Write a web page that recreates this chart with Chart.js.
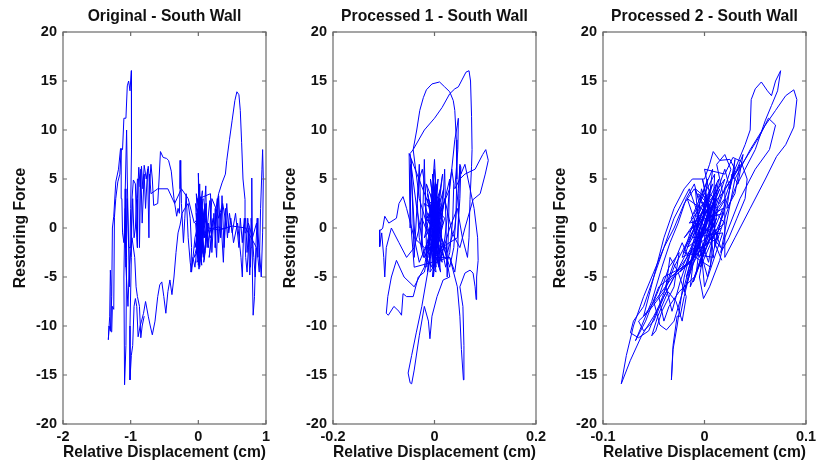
<!DOCTYPE html>
<html><head><meta charset="utf-8">
<script src="https://cdn.jsdelivr.net/npm/chart.js@4.4.1/dist/chart.umd.min.js"></script>
<style>
html,body{margin:0;padding:0;background:#fff;}
#wrap{position:relative;width:820px;height:472px;overflow:hidden;background:#fff;}
canvas{position:absolute;top:0;}
</style></head><body>
<div id="wrap">
<canvas id="c0" width="290" height="472" style="left:0px"></canvas>
<canvas id="c1" width="290" height="472" style="left:270px"></canvas>
<canvas id="c2" width="280" height="472" style="left:540px"></canvas>
</div>
<script>
// ---------- DATA ----------
const titles = ["Original - South Wall", "Processed 1 - South Wall", "Processed 2 - South Wall"];
const xLabel = "Relative Displacement (cm)";
const yLabel = "Restoring Force";
const yTicks = [-20, -15, -10, -5, 0, 5, 10, 15, 20];
const originalXTicks = [-2, -1, 0, 1];
const processed1XTicks = [-0.2, 0, 0.2];
const processed2XTicks = [-0.1, 0, 0.1];
const xRanges = [[-2, 1], [-0.2, 0.2], [-0.1, 0.1]];

// Original: [displacement, force]
const originalPoints = [
[0.00,0.0],[0.03,2.0],[-0.02,-1.5],[0.05,3.0],[0.01,-2.5],[-0.03,1.5],[0.04,-1.0],[0.02,4.5],[-0.01,-3.0],[0.06,1.0],[0.00,-3.8],[-0.04,2.5],[0.07,-2.0],[0.03,3.2],[-0.02,0.5],[0.08,-3.0],[0.05,2.0],[-0.05,-2.0],[0.10,1.5],[0.02,-4.0],[-0.03,3.5],[0.09,-1.0],[0.12,2.5],[0.04,-2.5],[0.00,5.6],[0.01,-1.0],[-0.06,-3.0],[0.06,-1.5],[0.11,4.3],[0.13,-2.0],[0.15,0.5],[0.08,-3.5],[0.17,2.8],[0.20,-0.5],[0.16,-3.0],[0.22,1.0],[0.14,-1.5],[0.05,0.5],[-0.02,2.0],[0.03,-0.5],
[0.02,-2.0],[-0.01,3.0],[0.04,-3.0],[0.00,2.5],[0.06,-2.5],[-0.02,-3.5],[0.03,1.0],[0.07,3.0],[0.01,-4.2],[-0.04,0.5],[0.05,-0.5],[0.09,2.0],[0.02,-1.0],[-0.03,-2.5],[0.06,3.8],[0.00,-1.5],[0.08,0.5],[0.04,2.5],[-0.01,-2.0],[0.10,-2.5],[0.03,0.0],[0.01,1.8],[0.05,-3.8],[-0.02,1.0],[0.07,-1.0],[0.02,3.0],[0.12,-1.0],[0.00,0.5],
[-0.05,-1.0],[-0.10,-4.5],[-0.12,-3.5],[-0.15,-1.0],[-0.18,3.5],[-0.20,1.0],[-0.22,-1.5],[-0.25,2.5],[-0.26,6.9],[-0.27,4.0],[-0.28,1.5],[-0.30,2.0],[-0.32,1.2],[-0.36,3.0],[-0.40,5.8],[-0.44,6.9],[-0.47,7.1],[-0.52,7.2],[-0.56,7.8],[-0.58,5.0],[-0.60,2.5],[-0.66,2.3],[-0.68,5.0],[-0.70,6.5],[-0.72,4.5],[-0.74,6.3],[-0.77,5.0],[-0.80,6.4],[-0.82,4.0],[-0.84,6.3],[-0.86,4.2],[-0.88,6.2],[-0.90,3.0],[-0.90,-2.0],[-0.91,-1.0],[-0.93,4.5],[-0.96,4.9],[-0.98,3.0],[-0.99,-3.0],[-1.01,-10.0],[-1.01,-15.5],[-0.99,-13.0],[-0.97,-12.0],[-0.95,-8.0],[-0.93,-7.2],[-0.91,-8.0],[-0.89,-11.1],[-0.86,-10.0],[-0.84,-9.5],[-0.81,-8.7],[-0.78,-7.5],[-0.74,-9.0],[-0.71,-10.0],[-0.68,-10.9],[-0.64,-9.5],[-0.60,-7.0],[-0.57,-5.8],[-0.54,-5.5],[-0.51,-7.0],[-0.48,-8.7],[-0.45,-6.5],[-0.42,-5.3],[-0.39,-6.8],[-0.36,-5.0],[-0.33,-2.5],[-0.30,-0.5],[-0.27,0.3],[-0.24,1.5],[-0.20,2.0],[-0.15,2.5],[-0.12,1.0],[-0.10,-2.0],[-0.11,-4.5],[-0.08,-3.0],[-0.05,-4.0],[-0.02,-2.0],[0.02,-3.5],[0.05,-1.0],[0.09,-3.2],[0.12,0.5],
[0.18,-1.0],[0.22,0.0],[0.30,0.1],[0.36,-0.1],[0.42,0.0],[0.36,2.5],[0.30,1.0],[0.26,2.0],[0.25,-2.0],[0.28,3.0],[0.30,-1.5],[0.33,1.5],[0.37,-3.5],[0.40,2.0],[0.43,-1.0],[0.46,1.5],[0.50,-0.5],[0.55,1.5],[0.60,-2.0],[0.62,1.0],[0.65,-1.5],[0.68,1.0],[0.70,-3.0],[0.72,-4.5],[0.74,-2.0],[0.73,1.0],[0.76,-4.8],[0.78,-2.0],[0.79,5.1],[0.80,-5.0],[0.81,-8.9],[0.83,-7.0],[0.85,-2.0],[0.87,1.0],[0.88,-3.0],[0.90,-4.5],[0.92,2.0],[0.94,6.0],[0.95,8.0],[0.96,5.0],[0.95,-0.5],[0.93,-5.0],[0.90,-2.0],[0.86,0.5],[0.80,-1.0],[0.74,0.5],[0.70,-0.5],[0.69,2.9],[0.66,5.0],[0.64,8.7],[0.62,12.0],[0.60,13.6],[0.57,13.9],[0.54,13.0],[0.50,11.0],[0.46,9.0],[0.42,6.9],[0.40,5.5],[0.35,4.6],[0.30,3.5],[0.26,2.0],[0.20,3.0],[0.15,-2.0],[0.10,2.5],[0.05,-3.0],[0.02,1.0],[-0.03,-2.5],[0.01,3.0],
[0.18,3.5],[0.20,-2.5],[0.23,1.5],[0.27,-3.0],[0.30,3.3],[0.33,-1.0],[0.35,3.3],[0.38,-2.0],[0.42,2.5],[0.45,-0.5],[0.48,1.0],[0.52,-1.5],[0.58,0.5],[0.63,-3.0],[0.65,-5.0],[0.67,0.0],[0.70,1.0],[0.72,-2.5],[0.75,0.0],[0.77,-4.0],[0.78,1.0],[0.82,-3.0],[0.84,-5.0],[0.86,-2.0],[0.70,0.0],[0.50,0.2],[0.30,-0.2],[0.15,0.0],[0.05,1.5],[-0.06,0.5],
[-0.15,3.0],[-0.25,4.0],[-0.35,2.5],[-0.45,4.0],[-0.60,4.0],[-0.70,3.5],[-0.72,5.5],[-0.73,-1.0],[-0.75,6.0],[-0.78,2.0],[-0.80,5.5],[-0.83,0.5],[-0.85,6.0],[-0.87,-2.0],[-0.88,5.0],[-0.90,5.0],[-0.93,0.0],[-0.95,-1.0],[-0.97,3.0],[-1.00,-2.0],[-1.03,-2.0],[-1.05,3.0],[-1.07,-2.0],[-1.08,4.0],[-1.10,-5.0],[-1.09,-16.0],[-1.07,-12.0],[-1.06,-3.0],[-1.08,2.0],[-1.10,-1.5],[-1.12,-0.5],[-1.13,3.0],[-1.14,8.1],[-1.16,5.5],[-1.19,4.7],[-1.22,3.0],[-1.24,1.1],[-1.25,-8.3],[-1.27,-8.0],[-1.28,-10.6],[-1.29,-6.0],[-1.30,-4.3],[-1.31,-9.0],[-1.33,-11.4],[-1.32,-10.0],[-1.30,-10.5],[-1.28,-7.0],[-1.27,0.0],[-1.25,1.2],[-1.22,4.7],[-1.18,6.0],[-1.15,8.1],[-1.12,8.0],[-1.10,11.2],[-1.07,11.2],[-1.05,14.5],[-1.03,15.0],[-1.01,14.0],[-0.99,16.05],[-0.985,14.0],[-0.99,8.0],[-1.00,2.0],[-1.02,-6.0],[-1.03,-2.0],[-1.05,5.0],[-1.06,10.0],[-1.08,4.0],[-1.07,-4.0],[-1.04,-8.0],[-1.02,-4.0],[-0.98,-1.0],[-0.94,-3.0],[-0.92,-6.0],[-0.90,-7.0],[-0.87,-8.0],[-0.85,-11.2],[-0.83,-10.0],[-0.80,-9.0]
];

// Processed 1: [displacement, force]
const processed1Points = [
[0.000,0.0],[0.010,3.0],[-0.010,-3.0],[0.015,2.0],[-0.020,-1.0],[0.005,4.5],[-0.005,-4.0],[0.020,1.0],[-0.015,3.0],[0.010,-2.5],[-0.008,5.0],[0.012,-4.5],[-0.018,0.5],[0.004,3.5],[-0.012,-2.0],[0.018,4.0],[-0.004,-5.0],[0.008,1.5],[-0.020,2.5],[0.015,-3.5],[0.000,6.0],[-0.010,-1.5],[0.020,-2.0],[-0.006,2.0],[0.006,-3.0],[-0.016,4.5],[0.012,0.5],[-0.002,-2.5],[0.016,5.5],[-0.014,-4.5],[0.002,1.0],
[0.004,-1.5],[-0.006,3.0],[0.009,-4.0],[-0.011,1.5],[0.013,2.5],[-0.003,-3.5],[0.007,5.0],[-0.013,-2.5],[0.017,0.5],[-0.001,4.0],[0.011,-3.0],[-0.009,-4.5],[0.001,2.0],[-0.017,1.0],[0.014,-1.0],[-0.004,5.5],[0.006,-2.0],[-0.014,3.5],[0.019,-3.0],[-0.002,-1.0],[0.009,3.0],[-0.008,0.0],[0.003,-4.5],[-0.019,-3.0],[0.012,4.0],[-0.005,1.5],
[0.006,2.0],[-0.006,-2.5],[0.010,-1.0],[-0.010,2.5],[0.003,-4.0],[-0.003,4.0],[0.012,1.5],[-0.012,-1.5],[0.007,-3.5],[-0.007,3.5],[0.000,-2.0],[0.004,3.0],[-0.004,-3.0],[0.009,0.5],[-0.009,-0.5],[0.002,5.0],[-0.002,-5.0],[0.011,3.0],[-0.011,-3.0],[0.005,-1.0],
[-0.020,-3.0],[-0.028,0.0],[-0.035,2.0],[-0.045,6.0],[-0.048,7.6],[-0.042,8.0],[-0.035,10.0],[-0.029,12.0],[-0.022,13.3],[-0.016,14.1],[-0.005,14.7],[0.010,14.9],[0.020,14.4],[0.030,13.9],[0.037,13.0],[0.040,12.0],[0.043,9.0],[0.044,5.0],[0.042,1.0],[0.038,-2.0],[0.030,-4.0],[0.015,-1.5],[0.000,2.5],[-0.010,-0.5],
[-0.030,3.0],[-0.042,8.0],[-0.020,10.0],[0.000,11.2],[0.015,12.3],[0.030,13.7],[0.040,14.2],[0.047,14.4],[0.055,15.2],[0.062,15.9],[0.068,16.05],[0.071,15.0],[0.073,11.4],[0.074,8.0],[0.073,6.3],[0.070,2.9],[0.068,-1.0],[0.065,-3.0],[0.055,-1.0],[0.045,2.0],[0.030,0.0],[0.010,-3.5],[-0.005,0.5],
[-0.022,-3.0],[-0.030,-1.0],[-0.034,2.5],[-0.030,5.0],[-0.024,6.0],[-0.018,4.0],[-0.016,1.0],
[0.018,-2.0],[0.025,1.0],[0.030,4.5],[0.034,6.0],[0.038,4.5],[0.036,1.0],[0.030,-2.5],[0.022,-4.0],[0.014,-2.0],
[0.045,-1.0],[0.050,3.0],[0.052,6.2],[0.050,6.5],[0.048,3.5],[0.046,-2.0],[0.040,-4.5],[0.030,-3.0],
[-0.040,-4.0],[-0.046,0.0],[-0.049,5.0],[-0.047,6.5],[-0.043,3.0],[-0.038,-1.5],[-0.030,-3.5],
[0.030,4.0],[0.040,9.0],[0.045,10.5],[0.047,11.2],[0.046,8.0],[0.040,4.0],[0.050,5.0],[0.060,5.5],[0.080,6.0],[0.095,7.5],[0.101,8.0],[0.106,6.9],[0.100,5.5],[0.090,3.5],[0.076,2.9],[0.060,0.0],[0.050,-2.0],[0.035,-0.5],[0.020,3.0],[0.005,-2.0],
[-0.020,-2.0],[-0.040,-1.0],[-0.055,2.0],[-0.062,3.2],[-0.070,2.5],[-0.075,1.0],[-0.090,0.5],[-0.098,1.2],[-0.102,0.0],[-0.105,-0.2],[-0.108,-0.2],[-0.108,-1.9],[-0.104,-0.5],[-0.100,-3.0],[-0.098,-5.0],[-0.095,-2.0],[-0.085,0.0],[-0.070,-1.5],[-0.055,-3.0],[-0.040,-2.0],[-0.025,1.0],[-0.010,-1.0],
[-0.020,-4.0],[-0.040,-6.0],[-0.060,-5.0],[-0.075,-3.3],[-0.085,-5.0],[-0.092,-7.0],[-0.095,-8.7],[-0.091,-8.9],[-0.080,-8.0],[-0.070,-8.5],[-0.065,-8.9],[-0.062,-6.7],[-0.055,-7.0],[-0.042,-7.0],[-0.032,-5.0],[-0.020,-4.5],[-0.005,-1.0],[0.010,2.0],
[-0.015,-5.0],[-0.025,-8.0],[-0.036,-10.7],[-0.045,-13.0],[-0.052,-14.8],[-0.048,-15.8],[-0.045,-15.9],[-0.040,-14.5],[-0.030,-11.0],[-0.020,-8.0],[-0.012,-9.5],[-0.009,-11.3],[-0.005,-9.0],[0.005,-7.0],[0.017,-5.3],[0.030,-5.0],[0.020,-2.0],[0.000,-3.0],
[0.030,-3.0],[0.045,-6.0],[0.050,-9.0],[0.053,-12.4],[0.057,-15.5],[0.058,-12.0],[0.056,-8.0],[0.050,-6.0],[0.060,-4.6],[0.070,-4.3],[0.076,-4.6],[0.080,-6.0],[0.082,-7.3],[0.083,-5.0],[0.086,-3.3],[0.085,-1.0],[0.078,2.0],[0.070,4.0],[0.060,6.5],[0.052,5.5],[0.050,6.3],[0.047,4.0],[0.040,0.0],[0.025,-2.5],
[-0.050,7.6],[-0.048,0.0],[-0.046,7.0],[-0.040,-3.0],[-0.030,6.5],[-0.025,-2.0],[-0.020,7.0],[-0.015,-4.0],[0.000,7.0],[0.010,-4.0],[0.020,6.0],[0.025,-5.0],[0.030,5.0],[0.005,-0.5]
];

// Processed 2: [displacement, force]
const processed2Points = [
[0.000,0.0],[0.010,3.0],[-0.010,-2.0],[0.015,4.0],[-0.015,-4.0],[0.005,2.0],[-0.020,-1.0],[0.020,5.0],[-0.005,-3.0],[0.012,1.0],[-0.018,-5.0],[0.008,4.5],[-0.012,0.0],[0.018,2.0],[-0.008,-4.5],[0.003,5.0],[-0.022,-3.0],[0.014,-1.0],[-0.006,3.5],[0.020,0.5],[-0.016,-2.5],[0.006,-4.0],[0.010,5.5],[-0.010,1.5],[0.016,-2.0],[-0.003,4.0],[-0.014,-6.0],[0.004,-1.5],[0.012,3.0],[-0.008,-2.5],
[-0.004,-1.0],[0.009,2.5],[-0.013,-3.5],[0.003,3.0],[-0.009,-0.5],[0.013,4.0],[-0.017,-2.0],[0.007,0.0],[-0.002,5.0],[0.011,-0.5],[-0.019,-4.0],[0.001,1.5],[0.017,3.5],[-0.011,-5.5],[0.005,-1.0],[0.014,5.0],[-0.007,0.5],[-0.021,-2.5],[0.009,-3.0],[0.002,3.0],[-0.015,0.5],[0.019,1.5],[-0.004,-4.0],[0.012,4.5],[-0.010,-3.0],[0.006,2.5],[-0.024,-4.5],[0.016,0.0],[-0.001,-2.0],[0.008,6.0],[-0.013,1.0],[0.003,-5.0],[0.021,3.0],[-0.006,-1.5],[0.010,1.0],[-0.017,3.0],[0.004,-3.5],[0.013,2.0],[-0.009,4.0],[0.000,-6.0],[0.018,-0.5],[-0.012,-1.0],[0.006,4.0],[-0.020,-6.5],[0.002,0.5],
[0.020,3.0],[0.030,6.0],[0.040,8.5],[0.045,10.0],[0.046,13.1],[0.050,14.2],[0.056,14.9],[0.062,14.0],[0.066,13.5],[0.070,15.0],[0.075,16.05],[0.072,14.0],[0.066,12.5],[0.060,11.0],[0.050,8.0],[0.040,6.0],[0.030,4.0],[0.020,1.0],[0.010,-2.0],
[0.010,3.0],[0.020,6.0],[0.025,4.0],[0.030,7.0],[0.028,5.0],[0.035,6.5],[0.030,3.5],[0.022,2.0],[0.027,5.5],[0.033,4.5],[0.038,7.5],[0.032,6.0],[0.018,3.5],[0.012,6.5],[0.020,7.5],[0.026,6.0],[0.015,2.5],[0.005,3.5],[0.000,6.0],
[0.020,5.5],[0.028,7.2],[0.036,6.8],[0.042,5.0],[0.040,3.0],[0.032,1.0],[0.024,-1.0],[0.016,-2.5],
[0.030,5.0],[0.045,8.0],[0.060,10.5],[0.070,12.0],[0.080,13.5],[0.088,14.1],[0.091,13.1],[0.088,10.3],[0.080,8.5],[0.071,7.3],[0.060,5.0],[0.045,2.0],[0.030,-1.0],[0.020,-3.0],
[0.020,4.0],[0.040,7.0],[0.055,9.5],[0.063,11.2],[0.070,10.5],[0.064,8.0],[0.050,6.0],[0.035,3.0],[0.020,-1.0],[0.015,-3.3],[0.005,-6.0],[-0.001,-7.2],[-0.005,-5.0],[0.000,-2.0],
[-0.010,-5.0],[-0.025,-6.5],[-0.035,-8.0],[-0.040,-9.5],[-0.045,-7.0],[-0.035,-4.0],[-0.025,-2.5],[-0.030,-6.0],[-0.042,-8.5],[-0.048,-10.5],[-0.052,-11.0],[-0.046,-9.0],[-0.036,-6.5],[-0.028,-7.5],[-0.022,-9.5],[-0.018,-7.0],[-0.026,-4.5],[-0.034,-3.0],[-0.038,-6.0],[-0.032,-8.5],[-0.024,-5.5],[-0.016,-3.0],[-0.022,-1.5],[-0.030,-3.5],[-0.040,-6.5],[-0.055,-8.5],[-0.065,-9.5],[-0.060,-10.5],[-0.050,-9.5],[-0.040,-7.0],[-0.030,-5.0],[-0.020,-4.0],[-0.010,-3.0],
[-0.045,-6.0],[-0.058,-9.5],[-0.068,-11.5],[-0.062,-10.0],[-0.052,-7.5],[-0.042,-4.0],[-0.034,-1.5],[-0.026,0.5],[-0.018,3.0],[-0.010,4.5],[-0.004,2.0],
[-0.020,-3.0],[-0.035,-6.0],[-0.050,-9.0],[-0.062,-11.0],[-0.073,-13.5],[-0.082,-15.9],[-0.077,-13.0],[-0.070,-10.0],[-0.060,-7.0],[-0.050,-4.5],[-0.040,-2.0],[-0.030,0.0],[-0.020,2.5],[-0.010,4.0],[0.000,2.0],
[-0.030,-4.0],[-0.045,-8.0],[-0.055,-10.5],[-0.065,-11.2],[-0.073,-10.7],[-0.070,-9.5],[-0.060,-8.0],[-0.050,-5.0],[-0.040,-2.0],[-0.030,1.0],[-0.015,4.0],[-0.005,1.0],
[-0.020,-5.0],[-0.027,-10.0],[-0.031,-12.4],[-0.0326,-15.5],[-0.031,-12.0],[-0.027,-9.0],[-0.024,-9.0],[-0.020,-7.0],[-0.012,-3.5],
[-0.040,-5.0],[-0.050,-7.5],[-0.044,-9.9],[-0.0375,-10.4],[-0.030,-9.5],[-0.020,-6.0],[-0.010,-2.0],
[-0.060,-9.0],[-0.050,-5.0],[-0.040,-1.0],[-0.030,2.0],[-0.020,4.0],[-0.012,5.0],[0.000,5.0],[0.005,6.5],[0.0086,7.8],[0.015,6.9],[0.025,7.0],[0.030,6.0],[0.020,2.0],[0.010,-1.5],[0.017,-3.3]
];
// ---------- END DATA ----------

const FAMILY = '"Liberation Sans", Arial, Helvetica, sans-serif';
Chart.defaults.font.family = FAMILY;

const framePlugin = {
  id: 'frame',
  afterDraw(chart, args, opts) {
    const {ctx, chartArea: a} = chart;
    const xs = chart.scales.x, ys = chart.scales.y;
    ctx.save();
    ctx.strokeStyle = '#6a6a6a';
    ctx.lineWidth = 1.2;
    ctx.beginPath();
    opts.xTicks.forEach(v => {
      const p = xs.getPixelForValue(v);
      ctx.moveTo(p, a.bottom); ctx.lineTo(p, a.bottom - 4);
      ctx.moveTo(p, a.top); ctx.lineTo(p, a.top + 4);
    });
    opts.yTicks.forEach(v => {
      const p = ys.getPixelForValue(v);
      ctx.moveTo(a.left, p); ctx.lineTo(a.left + 4, p);
      ctx.moveTo(a.right, p); ctx.lineTo(a.right - 4, p);
    });
    ctx.stroke();
    ctx.strokeRect(a.left, a.top, a.right - a.left, a.bottom - a.top);
    ctx.fillStyle = '#111';
    ctx.font = 'bold 15.7px ' + FAMILY;
    ctx.textAlign = 'center';
    ctx.textBaseline = 'alphabetic';
    ctx.fillText(opts.title, (a.left + a.right) / 2, 21);
    ctx.restore();
  }
};

const panels = [
  {id: 'c0', pts: originalPoints, xt: originalXTicks, range: xRanges[0], title: titles[0], padRight: 24},
  {id: 'c1', pts: processed1Points, xt: processed1XTicks, range: xRanges[1], title: titles[1], padRight: 24},
  {id: 'c2', pts: processed2Points, xt: processed2XTicks, range: xRanges[2], title: titles[2], padRight: 14}
];

const tickFont = {size: 14.5, weight: 'bold', family: FAMILY};
const titleFont = {size: 15.7, weight: 'bold', family: FAMILY};

panels.forEach(pn => {
  new Chart(document.getElementById(pn.id), {
    type: 'scatter',
    data: {
      datasets: [{
        data: pn.pts.map(p => ({x: p[0], y: p[1]})),
        showLine: true,
        borderColor: '#0000ff',
        borderWidth: 1,
        pointRadius: 0,
        pointHoverRadius: 0,
        tension: 0,
        fill: false
      }]
    },
    options: {
      responsive: false,
      animation: false,
      devicePixelRatio: 1,
      layout: {padding: {left: 0, right: pn.padRight, top: 32, bottom: 0}},
      plugins: {
        legend: {display: false},
        tooltip: {enabled: false},
        title: {display: false},
        frame: {title: pn.title, xTicks: pn.xt, yTicks: yTicks}
      },
      scales: {
        x: {
          type: 'linear', position: 'bottom',
          min: pn.range[0], max: pn.range[1],
          afterBuildTicks: s => { s.ticks = pn.xt.map(v => ({value: v})); },
          afterFit: s => { s.height = 48; s.paddingLeft = 0; s.paddingRight = 0; },
          ticks: {autoSkip: false, maxRotation: 0, minRotation: 0, padding: 4, color: '#111', font: tickFont, callback: v => String(v)},
          grid: {display: false, drawTicks: false},
          border: {display: false},
          title: {display: true, text: xLabel, color: '#111', font: titleFont, padding: {top: 0, bottom: 10}}
        },
        y: {
          type: 'linear', position: 'left',
          min: -20, max: 20,
          afterBuildTicks: s => { s.ticks = yTicks.map(v => ({value: v})); },
          afterFit: s => { s.width = 63; s.paddingTop = 0; s.paddingBottom = 0; },
          ticks: {autoSkip: false, padding: 6, color: '#111', font: tickFont, callback: v => String(v)},
          grid: {display: false, drawTicks: false},
          border: {display: false},
          title: {display: true, text: yLabel, color: '#111', font: titleFont, padding: {top: 11, bottom: 0}}
        }
      }
    },
    plugins: [framePlugin]
  });
});
</script>
</body></html>
